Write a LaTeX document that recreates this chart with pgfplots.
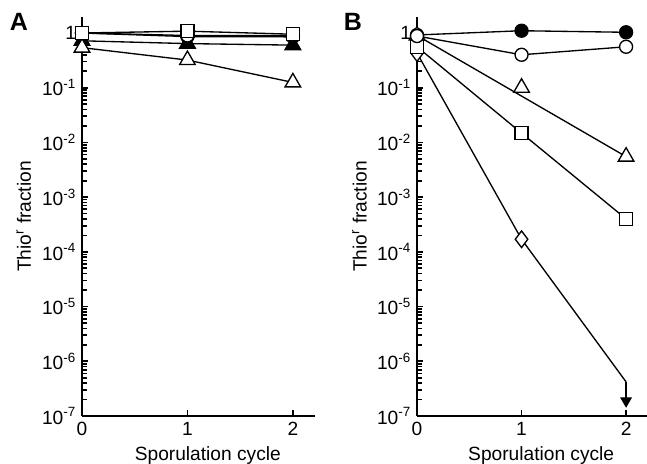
\documentclass[border=0pt]{standalone}
\usepackage{pgfplots}
\pgfplotsset{compat=1.18}
\usepackage{fontspec}
\setmainfont{Liberation Sans}

\pgfplotsset{
  every axis/.append style={
    scale only axis, height=239.4pt,
    xmin=0, ymin=1e-7, ymax=1.96,
    axis lines*=left, axis line style={line width=1.2pt},
    tick align=inside, major tick length=3.6pt,
    tick style={line width=1pt, black},
    xtick={0,1,2}, xticklabels={0,1,2},
    ytick={1e-7,1e-6,1e-5,1e-4,1e-3,1e-2,1e-1,1},
    yticklabels={10\textsuperscript{-7},10\textsuperscript{-6},10\textsuperscript{-5},10\textsuperscript{-4},10\textsuperscript{-3},10\textsuperscript{-2},10\textsuperscript{-1},1},
    minor ytick={},
    tick label style={font=\fontsize{11.5}{13}\selectfont},
    label style={font=\fontsize{11.5}{13}\selectfont},
    xlabel style={at={(axis description cs:0.54,-0.098)}, anchor=center},
    ylabel style={at={(axis description cs:-0.25,0.5)}, anchor=center},
    clip=false,
  },
}
\tikzset{
  base/.style={black, line width=0.8pt, mark size=3.9pt},
  oc/.style={base, mark=*, mark options={fill=white, solid}},
  fc/.style={base, mark=*, mark options={fill=black, solid}},
  sq/.style={base, mark=square*, mark options={fill=white}},
  ot/.style={base, mark=triangle*, mark size=5.4pt, mark options={fill=white}},
  ft/.style={base, mark=triangle*, mark size=5.4pt, mark options={fill=black}},
  dm/.style={base, mark=diamond*, mark size=5pt, mark options={fill=white}},
}

\begin{document}
\begin{tikzpicture}
\useasboundingbox (0,0) rectangle (388.2pt,-278.4pt);

% Panel A
\begin{axis}[ymode=log, at={(49.2pt,-249.6pt)}, anchor=south west, width=139.8pt, xmax=2.21,
  xlabel={Sporulation cycle}, ylabel={Thio\textsuperscript{r} fraction}]
\addplot[fc] coordinates {(0,1.0) (1,0.86) (2,0.85)};
\addplot[ft] coordinates {(0,0.72) (1,0.64) (2,0.6)};
\addplot[oc] coordinates {(0,1.0) (1,0.9) (2,0.9)};
\addplot[ot] coordinates {(0,0.54) (1,0.32) (2,0.125)};
\addplot[sq] coordinates {(0,1.0) (1,1.08) (2,0.95)};
\end{axis}

% Panel B
\begin{axis}[ymode=log, at={(250.2pt,-249.6pt)}, anchor=south west, width=138pt, xmax=2.2,
  xlabel={Sporulation cycle}, ylabel={Thio\textsuperscript{r} fraction}]
\addplot[fc] coordinates {(0,0.92) (1,1.1) (2,1.03)};
\addplot[dm, mark indices={1,2}] coordinates {(0,0.43) (1,1.7e-4) (2,4.2e-7)};
\addplot[base, mark=triangle*, mark size=3.4pt, mark options={fill=black, rotate=180}, mark indices={2}] coordinates {(2,4.2e-7) (2,1.9e-7)};
\addplot[sq] coordinates {(0,0.56) (1,0.0148) (2,4e-4)};
\addplot[ot, mark indices={1,2}] coordinates {(0,0.9) (2,0.0055)};
\addplot[ot, only marks] coordinates {(1,0.1)};
\addplot[oc] coordinates {(0,0.88) (1,0.4) (2,0.56)};
\end{axis}

\node[font=\fontsize{15}{17}\bfseries\selectfont] at (11.4pt,-13.2pt) {A};
\node[font=\fontsize{15}{17}\bfseries\selectfont] at (211.8pt,-13.2pt) {B};
\end{tikzpicture}
\end{document}
